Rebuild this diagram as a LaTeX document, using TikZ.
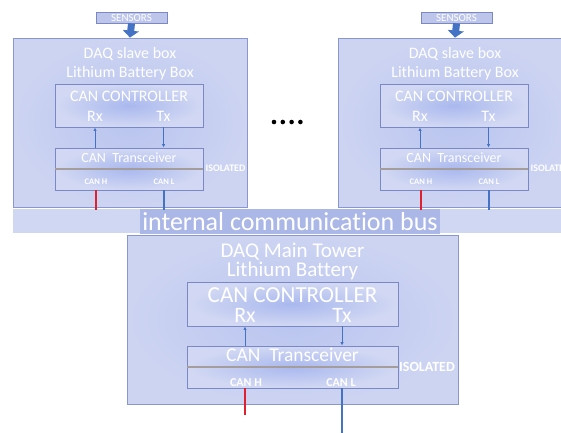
\documentclass[tikz,border=0pt]{standalone}
\usepackage{fontspec}
\setmainfont{Carlito}[Ligatures={NoCommon}]
\usetikzlibrary{arrows.meta}
\definecolor{boxfill}{HTML}{CDD4F2}
\definecolor{boxcenter}{HTML}{A9B8EE}
\definecolor{boxedge}{HTML}{8A97CC}
\definecolor{inedge}{HTML}{7A89C4}
\definecolor{arrowblue}{HTML}{4472C4}
\definecolor{canred}{HTML}{E02030}
\definecolor{busfill}{HTML}{D0D7F2}
\definecolor{busdark}{HTML}{ABB7E7}
\definecolor{divgrey}{HTML}{A49D9B}
\definecolor{sensfill}{HTML}{BDC6EA}
\tikzset{
  outerbox/.style={draw=boxedge, line width=0.8pt, inner color=boxcenter!55!boxfill, outer color=boxfill, rectangle, inner sep=0pt},
  innerbox/.style={draw=inedge, line width=0.9pt, inner color=boxcenter, outer color=boxfill!90!white, rectangle, inner sep=0pt},
  wtext/.style={text=white, inner sep=0pt, anchor=center},
  conn/.style={draw=arrowblue, line width=0.9pt},
  updown/.style={conn, -{Latex[length=3.5pt,width=3.5pt]}},
  hline/.style={draw=canred, line width=1.2pt},
  lline/.style={draw=arrowblue, line width=1.2pt},
  divline/.style={draw=divgrey, line width=1.6pt},
  sensbox/.style={draw=inedge, line width=0.8pt, fill=sensfill, rectangle, inner sep=0pt, text=white},
  blockarrow/.style={draw=arrowblue, line width=7pt, -{Triangle[width=16pt,length=7pt]}},
}
\newcommand\fs[1]{\fontsize{#1}{#1}\selectfont}
\newcommand\slaveunit[2]{%
\begin{scope}[xshift=#2]
  \node[outerbox, minimum width=234pt, minimum height=169pt] (#1box) at (130,122.5) {};
  \node[sensbox, minimum width=71pt, minimum height=11pt, font=\fs{11}] (#1sens) at (131.5,17.5) {SENSORS};
  \draw[blockarrow] (#1sens.south) -- (#1box.north);
  \node[wtext, font=\fs{16}] (#1t1) at (130,54) {DAQ slave box};
  \node[wtext, font=\fs{16}] (#1t2) at (130,73) {Lithium Battery Box};
  \node[innerbox, minimum width=148pt, minimum height=43pt] (#1cc) at (129,105.5) {};
  \node[wtext, font=\fs{16}] (#1cct) at (129,96) {CAN CONTROLLER};
  \node[wtext, font=\fs{16}] (#1rx) at (95,116) {Rx};
  \node[wtext, font=\fs{16}] (#1tx) at (163.5,116) {Tx};
  \node[innerbox, minimum width=148pt, minimum height=42pt] (#1tr) at (129,169) {};
  \draw[divline] (#1tr.west) -- (#1tr.east);
  \node[wtext, font=\fs{14}] (#1trt) at (129,158) {CAN\ \ Transceiver};
  \node[wtext, font=\bfseries\fs{8.5}] (#1canh) at (96,182) {CAN H};
  \node[wtext, font=\bfseries\fs{8.5}] (#1canl) at (164,182) {CAN L};
  \node[wtext, font=\bfseries\fs{10}] (#1iso) at (225.5,168.5) {ISOLATED};
  \draw[updown] (#1tr.north -| #1rx) -- (#1cc.south -| #1rx);
  \draw[updown] (#1cc.south -| #1tx) -- (#1tr.north -| #1tx);
  \coordinate (#1hend) at (96,210);
  \coordinate (#1lend) at (164,210);
  \draw[hline] (#1tr.south -| #1canh) -- (#1hend);
  \draw[lline] (#1tr.south -| #1canl) -- (#1lend);
\end{scope}}
\begin{document}
\begin{tikzpicture}[x=1pt, y=-1pt]
  \useasboundingbox (0,0) rectangle (561,432);
  \clip (0,0) rectangle (561,432);
  % bus bar
  \fill[busfill] (13,208.5) rectangle (561,232.5);
  \fill[busdark] (140,208.5) rectangle (440,234);
  \slaveunit{a}{0pt}
  \slaveunit{b}{325pt}
  \node[wtext, font=\fs{26}] (bus) at (290,221.5) {internal communication bus};
  % ellipsis
  \foreach \i in {0,1,2,3} \fill[black] (274+8.8*\i,122) circle (2.3pt);
  % main tower
  \node[outerbox, minimum width=331pt, minimum height=169pt] (mbox) at (292.5,319.5) {};
  \node[wtext, font=\fs{21}] (mt1) at (292.5,251.5) {DAQ Main Tower};
  \node[wtext, font=\fs{21}] (mt2) at (292.5,271) {Lithium Battery};
  \node[innerbox, minimum width=211pt, minimum height=44pt] (mcc) at (292.5,304) {};
  \node[wtext, font=\fs{23}] (mcct) at (292.5,295) {CAN CONTROLLER};
  \node[wtext, font=\fs{22}] (mrx) at (245,315.5) {Rx};
  \node[wtext, font=\fs{22}] (mtx) at (342,315.5) {Tx};
  \node[innerbox, minimum width=211pt, minimum height=42pt] (mtr) at (292.5,367) {};
  \draw[divline] (mtr.west) -- (mtr.east);
  \node[wtext, font=\fs{19.5}] (mtrt) at (292.5,355) {CAN\ \ Transceiver};
  \node[wtext, font=\bfseries\fs{12}] (mcanh) at (246,382.5) {CAN H};
  \node[wtext, font=\bfseries\fs{12}] (mcanl) at (341,382.5) {CAN L};
  \node[wtext, font=\bfseries\fs{14}] (miso) at (427,367) {ISOLATED};
  \draw[updown] (mtr.north -| mrx) -- (mcc.south -| mrx);
  \draw[updown] (mcc.south -| mtx) -- (mtr.north -| mtx);
  \coordinate (mhend) at (245,415);
  \coordinate (mlend) at (342,433);
  \draw[hline] (mtr.south -| mhend) -- (mhend);
  \draw[lline] (mtr.south -| mlend) -- (mlend);
\end{tikzpicture}
\end{document}
